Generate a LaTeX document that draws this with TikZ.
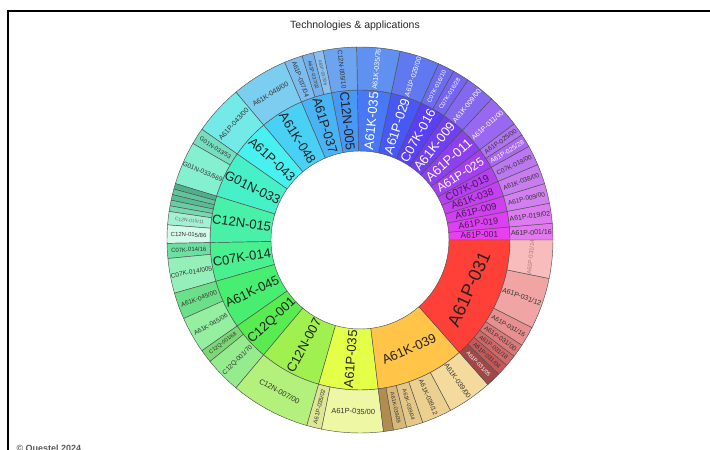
\documentclass[tikz,border=0pt]{standalone}
\usepackage{fontspec}
\setmainfont{Liberation Sans}
\newcounter{sgc}
\tikzset{
  seg/.style={fill=sgfill, draw=sgline, line width=0.45pt},
  lab/.style={inner sep=0pt, outer sep=0pt},
}
\definecolor{sgline}{HTML}{505050}
\newcommand\sgseg[9]{%
  \stepcounter{sgc}%
  \definecolor{sgfill}{HTML}{#5}%
  \definecolor{sgtext}{HTML}{#7}%
  \pgfmathsetmacro\sgMid{(#1+#2)/2}%
  \pgfmathsetmacro\sgR{(#3+#4)/2}%
  \pgfmathsetmacro\sgRot{mod(\sgMid+90*#9+810,180)-90}%
  \filldraw[seg] (#1:#3pt) arc[start angle=#1,end angle=#2,radius=#3pt] -- (#2:#4pt) arc[start angle=#2,end angle=#1,radius=#4pt] -- cycle;
  \node[lab, rotate=\sgRot, text=sgtext, font=\fontsize{#8}{#8}\selectfont] (lab\number\value{sgc}) at (\sgMid:\sgR pt) {#6};
}
\newcommand\iseg[7]{\sgseg{#1}{#2}{89}{150}{#3}{#4}{#5}{#6}{#7}}
\newcommand\oseg[7]{\sgseg{#1}{#2}{150}{193}{#3}{#4}{#5}{#6}{#7}}
\begin{document}
\begin{tikzpicture}[x=1pt,y=1pt]
\fill[white] (0,0) rectangle (710,450);
\useasboundingbox (0,0) rectangle (710,450);
\draw[line width=2pt] (8,-5) -- (8,439) -- (715,439);
\node[font=\fontsize{10.5}{12}\selectfont, text=black!85] (title) at (355,424) {Technologies \& applications};
\node[anchor=base west, font=\fontsize{9}{10}\selectfont\bfseries, text=black!65] (foot) at (13,-1.5) {© Questel 2024};
\begin{scope}[shift={(360,210)}]
% inner ring
\iseg{0}{5}{E840F0}{A61P-001}{4A1858}{8.5}{0}
\iseg{5}{11}{DC40F0}{A61P-019}{4A1858}{9}{0}
\iseg{11}{17}{D040F0}{A61P-009}{4A1858}{9.5}{0}
\iseg{17}{23}{C440F0}{A61K-038}{4A1858}{10}{0}
\iseg{23}{29}{B440F0}{C07K-019}{4A1858}{10.5}{0}
\iseg{29}{37}{A040F0}{A61P-025}{FFFFFF}{12}{0}
\iseg{37}{47}{8C40F0}{A61P-011}{FFFFFF}{13}{0}
\iseg{47}{56}{7040F0}{A61K-009}{FFFFFF}{13}{0}
\iseg{56}{66}{5A40F5}{C07K-016}{FFFFFF}{13}{0}
\iseg{66}{78}{4858F5}{A61P-029}{FFFFFF}{13}{0}
\iseg{78}{91}{4878F5}{A61K-035}{FFFFFF}{13}{0}
\iseg{91}{101}{4898F5}{C12N-005}{222222}{13}{0}
\iseg{101}{113}{48B4F5}{A61P-037}{222222}{13}{0}
\iseg{113}{130}{48D0F5}{A61K-048}{222222}{13}{0}
\iseg{130}{145}{48F0F0}{A61P-043}{222222}{13}{0}
\iseg{145}{163}{48F0C8}{G01N-033}{222222}{13}{0}
\iseg{163}{181}{48F0A8}{C12N-015}{222222}{13}{0}
\iseg{181}{196}{48F090}{C07K-014}{222222}{13}{0}
\iseg{196}{215}{48EE70}{A61K-045}{222222}{13}{0}
\iseg{215}{230}{58EC50}{C12Q-001}{222222}{13}{0}
\iseg{230}{254}{A0F050}{C12N-007}{222222}{13}{0}
\iseg{254}{277}{E4FF48}{A61P-035}{222222}{13}{0}
\iseg{277}{311.5}{FFC448}{A61K-039}{222222}{13}{1}
\iseg{311.5}{360}{FF4038}{A61P-031}{222222}{18}{1}
% outer ring
\oseg{0}{5}{E478F0}{A61P-001/16}{333333}{7}{0}
\oseg{5}{11}{DC7CF0}{A61P-019/02}{333333}{7}{0}
\oseg{11}{17}{D280F0}{A61P-009/00}{333333}{6.5}{0}
\oseg{17}{23}{C87CF0}{A61K-038/00}{333333}{6.5}{0}
\oseg{23}{29}{BC78F0}{C07K-019/00}{333333}{6.5}{0}
\oseg{29}{33}{A868F0}{A61P-025/28}{FFFFFF}{6.5}{0}
\oseg{33}{37}{B074F0}{A61P-025/00}{333333}{6.5}{0}
\oseg{37}{47}{9868F0}{A61P-011/00}{FFFFFF}{7}{0}
\oseg{47}{56}{8468F0}{A61K-009/00}{FFFFFF}{7}{0}
\oseg{56}{61}{7464F0}{C07K-016/28}{FFFFFF}{6}{0}
\oseg{61}{66}{6C6CF0}{C07K-016/10}{FFFFFF}{6}{0}
\oseg{66}{78}{6078F0}{A61P-029/00}{FFFFFF}{7}{0}
\oseg{78}{91}{6090F0}{A61K-035/76}{FFFFFF}{7}{0}
\oseg{91}{101}{6CA4F0}{C12N-005/10}{333333}{6.5}{0}
\oseg{101}{104}{88C0F0}{A61P-037/06}{555555}{4.5}{0}
\oseg{104}{107.5}{74B0EC}{A61P-037/02}{333333}{5}{0}
\oseg{107.5}{113}{7CBCF0}{A61P-037/04}{333333}{6.5}{0}
\oseg{113}{130}{7CCEF0}{A61K-048/00}{333333}{7}{1}
\oseg{130}{145}{74EAE8}{A61P-043/00}{333333}{7}{1}
\oseg{145}{150}{74DEBE}{G01N-033/53}{333333}{6}{0}
\oseg{150}{163}{84F0D0}{G01N-033/569}{333333}{6.5}{0}
\oseg{163}{164.7}{4EB088}{}{333333}{4}{0}
\oseg{164.7}{166.4}{62C49C}{}{333333}{4}{0}
\oseg{166.4}{168.1}{58BC94}{}{333333}{4}{0}
\oseg{168.1}{169.8}{6ACCA4}{}{333333}{4}{0}
\oseg{169.8}{171.5}{78D8B0}{}{333333}{4}{0}
\oseg{171.5}{175.5}{A4F0D4}{C12N-015/11}{667766}{5}{0}
\oseg{175.5}{181}{D4FAEA}{C12N-015/86}{333333}{6}{0}
\oseg{181}{185.5}{6CE0A0}{C07K-014/16}{333333}{6}{0}
\oseg{185.5}{196}{94F0B8}{C07K-014/005}{333333}{6.5}{0}
\oseg{196}{204}{6CE088}{A61K-045/00}{333333}{6.5}{0}
\oseg{204}{215}{94F0A0}{A61K-045/06}{333333}{6.5}{0}
\oseg{215}{219}{7CD874}{C12Q-001/68}{333333}{5.5}{0}
\oseg{219}{230}{94EC8C}{C12Q-001/70}{333333}{6.5}{0}
\oseg{230}{254}{B4F07C}{C12N-007/00}{333333}{7.5}{1}
\oseg{254}{258.5}{DCE894}{A61P-035/02}{333333}{6}{0}
\oseg{258.5}{277}{EEF8A4}{A61P-035/00}{333333}{7.5}{1}
\oseg{277}{280}{B08C50}{}{333333}{4}{0}
\oseg{280}{284}{D8B878}{A61K-039/39}{333333}{5.5}{0}
\oseg{284}{289}{E4C888}{A61K-039/04}{333333}{5.5}{0}
\oseg{289}{298}{ECD090}{A61K-039/12}{333333}{6.5}{0}
\oseg{298}{311.5}{F4DA9C}{A61K-039/00}{333333}{7}{0}
\oseg{311.5}{316}{A04848}{A61P-031/05}{FFFFFF}{5.5}{0}
\oseg{316}{319.5}{C85858}{A61P-031/04}{333333}{6}{0}
\oseg{319.5}{323}{D06868}{A61P-031/18}{333333}{6}{0}
\oseg{323}{327}{DC7878}{A61P-031/00}{333333}{6.5}{0}
\oseg{327}{333}{E89090}{A61P-031/16}{333333}{6.5}{0}
\oseg{333}{348.5}{F0A4A4}{A61P-031/12}{333333}{7}{0}
\oseg{348.5}{360}{F8BCBC}{A61P-031/14}{B07878}{6}{1}
\end{scope}
\end{tikzpicture}
\end{document}
